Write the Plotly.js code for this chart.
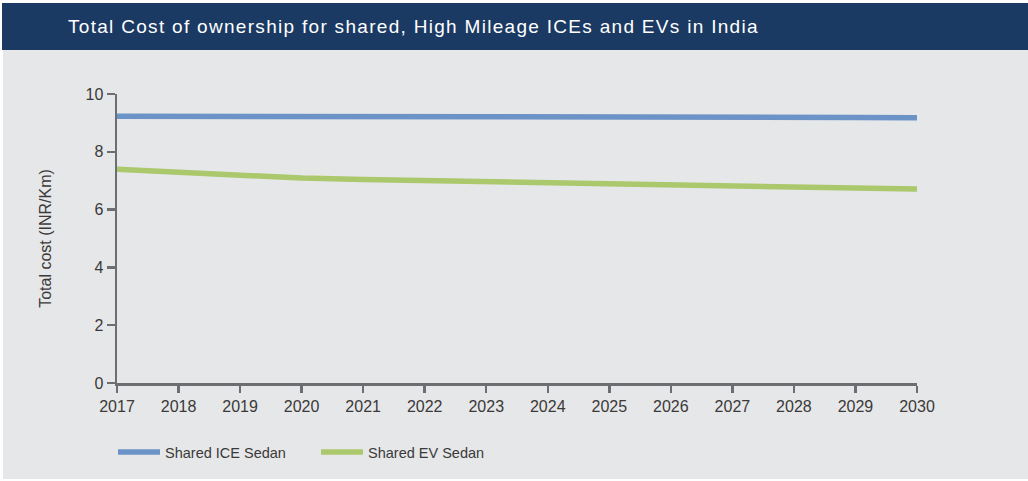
<!DOCTYPE html>
<html>
<head>
<meta charset="utf-8">
<script src="https://cdn.plot.ly/plotly-3.0.1.min.js"></script>
<style>html,body{margin:0;padding:0;background:#fff;}#chart{width:1028px;height:481px;}
.gtitle{letter-spacing:1.3px;}</style>
</head>
<body>
<div id="chart"></div>
<script>
const years = [2017,2018,2019,2020,2021,2022,2023,2024,2025,2026,2027,2028,2029,2030];
const iceSedan = [9.23,9.23,9.23,9.23,9.23,9.23,9.23,9.23,9.22,9.21,9.21,9.20,9.19,9.18];
const evSedan = [7.40,7.30,7.20,7.09,7.04,7.00,6.96,6.91,6.87,6.84,6.80,6.77,6.74,6.71];
const seriesNames = ["Shared ICE Sedan","Shared EV Sedan"];
const chartTitle = "Total Cost of ownership for shared, High Mileage ICEs and EVs in India";
const yTitle = "Total cost (INR/Km)";

const font = "Liberation Sans, Arial, Helvetica, sans-serif";
const axisColor = "#6d6e71";
const textColor = "#3b3939";

const traces = [
  {x: years, y: iceSedan, name: seriesNames[0], type: "scatter", mode: "lines",
   line: {color: "#6b93c8", width: 5.5}},
  {x: years, y: evSedan, name: seriesNames[1], type: "scatter", mode: "lines",
   line: {color: "#abc86c", width: 5.5}}
];

// plot area: x 117..917, y 94..383 (height 289)
const H = 289, B = 383;
const py = v => (B - v) / H;
const W = 800, L = 117;
const px = v => (v - L) / W;

const layout = {
  width: 1028, height: 481,
  margin: {l: 117, r: 111, t: 94, b: 98, pad: 0},
  paper_bgcolor: "#ffffff",
  plot_bgcolor: "rgba(0,0,0,0)",
  font: {family: font, size: 16, color: textColor},
  title: {text: chartTitle, x: 68/1028, xanchor: "left", xref: "container",
          y: 1 - 26/481, yanchor: "middle", yref: "container",
          font: {family: font, size: 19, color: "#ffffff"}},
  shapes: [
    {type: "rect", xref: "paper", yref: "paper", x0: px(3), x1: px(1030), y0: py(479), y1: py(50),
     fillcolor: "#e6e7e8", line: {width: 0}, layer: "below"},
    {type: "rect", xref: "paper", yref: "paper", x0: px(2), x1: px(1030), y0: py(50), y1: py(3),
     fillcolor: "#1b3a63", line: {width: 0}, layer: "below"}
  ],
  xaxis: {
    range: [2017, 2030], tickmode: "array", tickvals: years, ticktext: years.map(String),
    showgrid: false, zeroline: false, showline: true, linecolor: axisColor, linewidth: 2.5,
    ticks: "outside", ticklen: 7, tickwidth: 2.5, tickcolor: axisColor,
    tickfont: {family: font, size: 16, color: textColor}, fixedrange: true, automargin: false
  },
  yaxis: {
    range: [0, 10], tickvals: [0,2,4,6,8,10],
    showgrid: false, zeroline: false, showline: true, linecolor: axisColor, linewidth: 2.5,
    ticks: "outside", ticklen: 8, tickwidth: 2.5, tickcolor: axisColor,
    tickfont: {family: font, size: 16, color: textColor},
    title: {text: yTitle, standoff: 30, font: {family: font, size: 16, color: textColor}},
    fixedrange: true, automargin: false
  },
  showlegend: true,
  legend: {orientation: "h", x: px(113), xanchor: "left", xref: "paper",
           y: 1 - 436/481, yanchor: "top", yref: "container", itemwidth: 42,
           bgcolor: "rgba(0,0,0,0)", entrywidth: 146, entrywidthmode: "pixels",
           font: {family: font, size: 14.5, color: textColor}}
};

Plotly.newPlot("chart", traces, layout, {displayModeBar: false, staticPlot: true});
</script>
</body>
</html>
